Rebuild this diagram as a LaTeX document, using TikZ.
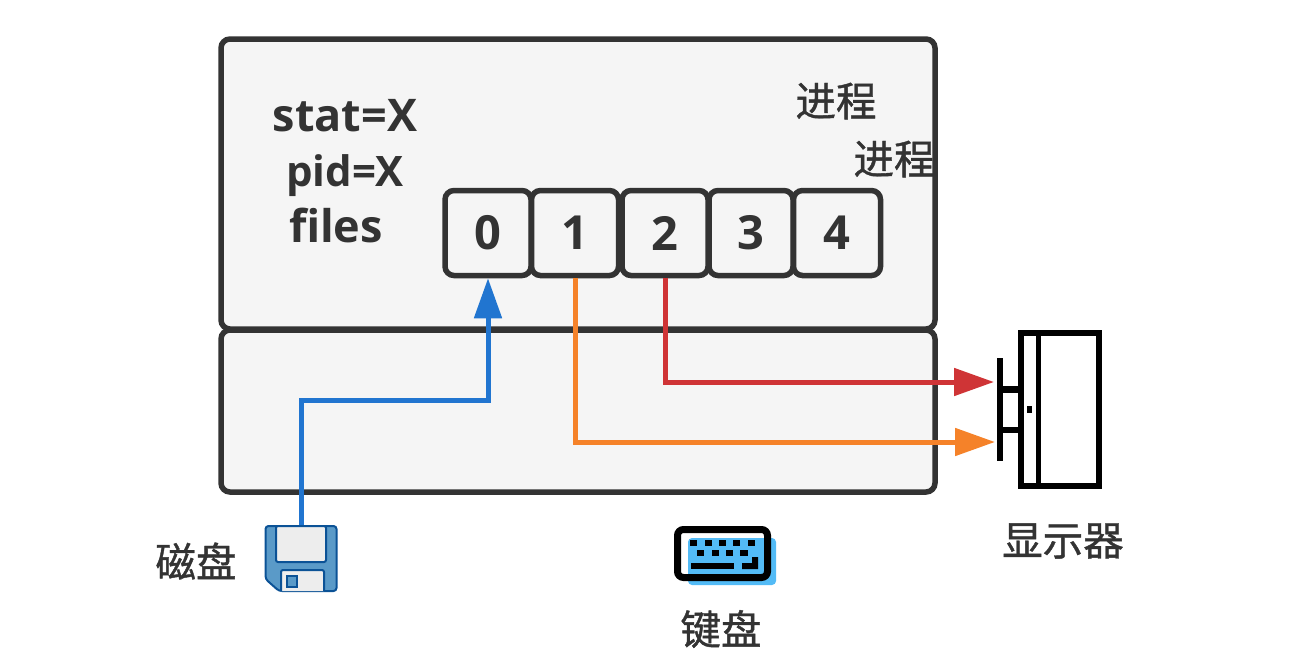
\documentclass[tikz,border=0pt]{standalone}
\usepackage{fontspec}
\setmainfont{Open Sans}
\newfontfamily\cjk[FakeBold=1]{Noto Sans CJK SC}
\usetikzlibrary{arrows.meta,positioning,calc}
\definecolor{edgegray}{HTML}{333333}
\definecolor{boxgray}{HTML}{F5F5F5}
\definecolor{flowblue}{HTML}{2175D0}
\definecolor{floworange}{HTML}{F58229}
\definecolor{flowred}{HTML}{CF3436}
\definecolor{floppyblue}{HTML}{5A9AC8}
\definecolor{floppyedge}{HTML}{0B5296}
\definecolor{keyblue}{HTML}{53BBF6}

\begin{document}
\begin{tikzpicture}[
            x=1pt, y=-1pt,
            procbox/.style={draw=edgegray, fill=boxgray, line width=5.5pt, rounded corners=9pt, minimum width=714pt, inner sep=0pt},
            cellbox/.style={draw=edgegray, fill=boxgray, line width=5.5pt, rounded corners=9pt, minimum height=85pt, inner sep=0pt, text=edgegray, font=\fontsize{47}{47}\selectfont\bfseries},
            statlabel/.style={text=edgegray, inner sep=0pt, anchor=base, font=\fontsize{45}{45}\selectfont\bfseries},
            cjklabel/.style={text=edgegray, inner sep=0pt, font=\cjk\fontsize{40.5}{40.5}\selectfont},
            flow/.style={line width=5pt, -{Triangle[length=40pt,width=27pt]}},
            keycap/.style={fill=black, draw=none}
        ]
            \useasboundingbox (0,0) rectangle (1289,670);

            \node[procbox, minimum height=290pt] (user) at (578,184) {};
            \node[procbox, minimum height=162pt] (kernel) at (578,411) {};

            \node[statlabel] (stat) at (345,131) {stat=X};
            \node[statlabel, font=\fontsize{42}{42}\selectfont\bfseries] (pid) at (345,186) {pid=X};
            \node[statlabel] (files) at (336,242) {files};
            \node[cjklabel] (procone) at (836,101) {进程};
            \node[cjklabel] (proctwo) at (894,159) {进程};

            \node[cellbox, minimum width=86pt] (c0) at (488,233) {0};
            \node[cellbox, minimum width=87pt] (c1) at (575,233) {1};
            \node[cellbox, minimum width=86pt] (c2) at (665,233) {2};
            \node[cellbox, minimum width=84pt] (c3) at (751,233) {3};
            \node[cellbox, minimum width=87pt] (c4) at (837,233) {4};

            % floppy
            \node[draw=none, minimum width=74pt, minimum height=67pt, inner sep=0pt] (disk) at (301,558.5) {};
            \draw[floppyedge, fill=floppyblue, line width=2pt, rounded corners=3pt]
                (265.5,526) -- (336.5,526) -- (336.5,591) -- (279,591) -- (265.5,579) -- cycle;
            \draw[floppyedge, fill=black!7, line width=2pt, rounded corners=2pt]
                (276,526) rectangle (326,562);
            \draw[floppyedge, fill=black!7, line width=2pt, rounded corners=2pt]
                (281,591) -- (281,570) -- (324,570) -- (324,591);
            \draw[floppyedge, fill=floppyblue, line width=2pt] (287,576) rectangle (297,587);
            \node[cjklabel] (disklabel) at (196,561) {磁盘};

            % keyboard
            \fill[keyblue, rounded corners=4pt] (688,538) rectangle (776,585);
            \node[draw=black, line width=7pt, rounded corners=6pt, minimum width=90pt, minimum height=48pt, inner sep=0pt] (keyboard) at (722.5,553.5) {};
            \foreach \kx in {690,704.5,719,733,748} {
                \fill[keycap] (\kx,540) rectangle ++(7.3,6);
            }
            \foreach \kx in {697,711.5,726,740.3} {
                \fill[keycap] (\kx,550) rectangle ++(7.3,6);
            }
            \fill[keycap] (691,563) rectangle (734,569);
            \fill[keycap] (742,563) -- (752,563) -- (752,557) -- (758,557) -- (758,569) -- (742,569) -- cycle;
            \node[cjklabel] (keylabel) at (721,629) {键盘};

            % monitor
            \node[draw=black, line width=6.5pt, minimum width=78pt, minimum height=153pt, inner sep=0pt] (screen) at (1060,409.5) {};
            \draw[black, line width=5.5pt] (1038.5,332) -- (1038.5,487);
            \fill[black] (1027,406) rectangle (1032,413);
            \draw[black, line width=6pt] (1000,358) -- (1000,461);
            \draw[black, line width=6.5pt] (1000,389.5) -- (1018,389.5);
            \draw[black, line width=6.5pt] (1000,430) -- (1018,430);
            \node[cjklabel] (screenlabel) at (1063,541) {显示器};

            \coordinate (redend) at (994,382);
            \coordinate (orangeend) at (995,442);
            \coordinate (bluebend) at (301,400);

            \draw[flow, flowblue] (disk.north) -- (bluebend) -| (c0.south);
            \draw[flow, floworange] (c1.south) |- (orangeend);
            \draw[flow, flowred] (c2.south) |- (redend);
        \end{tikzpicture}
\end{document}
